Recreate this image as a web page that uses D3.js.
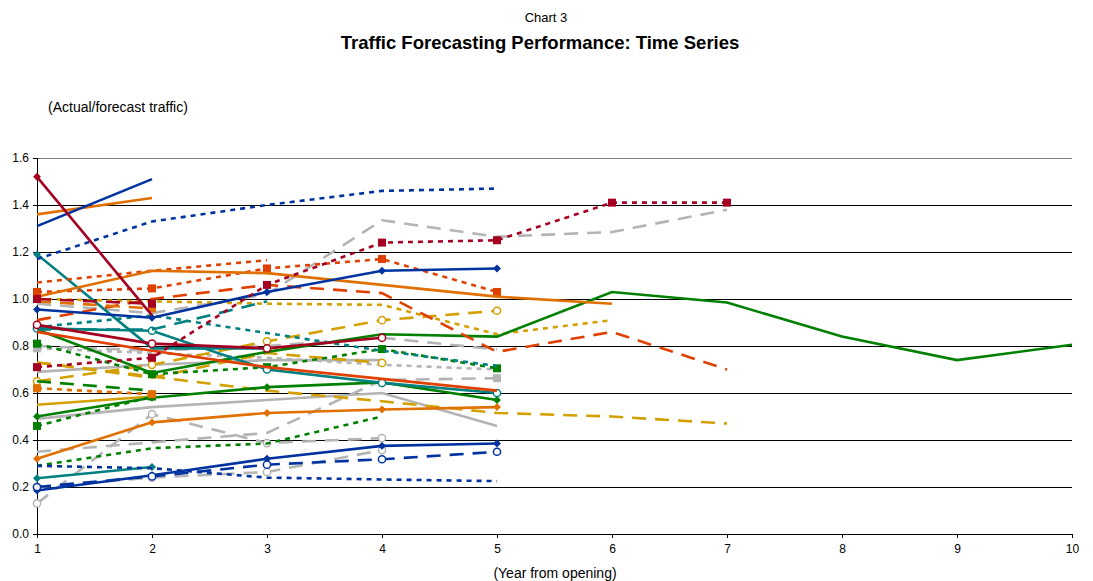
<!DOCTYPE html>
<html><head><meta charset="utf-8">
<script src="https://cdn.jsdelivr.net/npm/d3@7"></script>
<style>body{margin:0;background:#fff;font-family:"Liberation Sans",Arial,sans-serif}</style>
</head><body><svg id="c" width="1093" height="581"></svg>
<script>
// ---- data (actual/forecast traffic ratio by year from opening; index 0 = year 1) ----
const yearTicks = [1,2,3,4,5,6,7,8,9,10];
const valueTicks = [0,0.2,0.4,0.6,0.8,1.0,1.2,1.4,1.6];

const crimsonA = [1.52, 0.93];
const crimsonB = [0.71, 0.75, 1.06, 1.24, 1.25, 1.41, 1.41];
const crimsonC = [0.89, 0.81, 0.79, 0.835];
const crimsonD = [1.00, 0.98];

const blueA = [1.31, 1.51];
const blueB = [1.17, 1.33, 1.40, 1.46, 1.47];
const blueC = [0.955, 0.92, 1.03, 1.12, 1.13];
const blueD = [0.185, 0.25, 0.32, 0.375, 0.385];
const blueE = [0.20, 0.245, 0.295, 0.318, 0.35];
const blueF = [0.29, 0.28, 0.24, 0.232, 0.225];

const orangeA = [1.36, 1.43];
const orangeB = [1.01, 1.12, 1.11, 1.06, 1.01, 0.98];
const orangeC = [0.32, 0.475, 0.515, 0.53, 0.54];
const orangeD = [0.62, 0.595];
const orangeE = [0.99, 0.96];

const redA = [1.03, 1.045, 1.13, 1.17, 1.03];
const redB = [0.91, 1.00, 1.06, 1.025, 0.775, 0.86, 0.70];
const redC = [0.86, 0.78, 0.71, 0.66, 0.61];
const redD = [1.07, 1.12, 1.165];

const tealA = [1.19, 0.79, 0.79];
const tealB = [0.875, 0.865, 0.70, 0.643, 0.60];
const tealC = [0.88, 0.93, 0.855, 0.78, 0.715];
const tealD = [0.87, 0.87, 0.99];
const tealE = [0.237, 0.285];

const greenA = [0.87, 0.685, 0.775, 0.85, 0.84, 1.03, 0.985, 0.84, 0.74, 0.805];
const greenB = [0.50, 0.58, 0.625, 0.645, 0.57];
const greenC = [0.81, 0.68, 0.71, 0.787, 0.705];
const greenD = [0.65, 0.61];
const greenE = [0.46, 0.585];
const greenF = [0.29, 0.365, 0.385, 0.50];

const goldA = [0.55, 0.585];
const goldB = [0.65, 0.72, 0.82, 0.91, 0.95];
const goldC = [1.00, 0.99, 0.98, 0.975, 0.85, 0.91];
const goldD = [0.73, 0.665, 0.77, 0.728];
const goldE = [0.73, 0.67, 0.61, 0.565, 0.515, 0.50, 0.47];

const grayA = [0.98, 0.94, 1.02, 1.335, 1.265, 1.285, 1.38];
const grayB = [0.80, 0.78, 0.80, 0.835, 0.785];
const grayC = [0.79, 0.77, 0.75, 0.72, 0.70];
const grayD = [0.49, 0.54, 0.57, 0.60, 0.46];
const grayE = [0.69, 0.72, 0.74, 0.74];
const grayF = [0.13, 0.51, 0.387, 0.408];
const grayG = [0.35, 0.39, 0.43, 0.655, 0.663];
const grayH = [0.20, 0.24, 0.264, 0.357];

// ---- styles ----
const C = {crimson:"#a50021", blue:"#0033a0", orange:"#e07000", red:"#e04000",
           teal:"#008080", green:"#008000", gold:"#d4a000", gray:"#b4b4b4"};
const series = [
  {v:grayA, c:C.gray, d:"long"}, {v:grayB, c:C.gray, d:"long"},
  {v:grayC, c:C.gray, d:"dot", m:"square", mi:[0]}, {v:grayD, c:C.gray, d:"solid"},
  {v:grayE, c:C.gray, d:"solid"}, {v:grayF, c:C.gray, d:"long", m:"circle"},
  {v:grayG, c:C.gray, d:"long", m:"square", mi:[4]}, {v:grayH, c:C.gray, d:"long", m:"circle"},
  {v:goldA, c:C.gold, d:"solid"}, {v:goldB, c:C.gold, d:"long", m:"circle"},
  {v:goldC, c:C.gold, d:"dot"}, {v:goldD, c:C.gold, d:"long", m:"circle", mi:[3]},
  {v:goldE, c:C.gold, d:"long"},
  {v:greenA, c:C.green, d:"solid"}, {v:greenB, c:C.green, d:"solid", m:"diamond"},
  {v:greenC, c:C.green, d:"dot", m:"square"}, {v:greenD, c:C.green, d:"long"},
  {v:greenE, c:C.green, d:"dot", m:"square"}, {v:greenF, c:C.green, d:"dot"},
  {v:tealA, c:C.teal, d:"solid", m:"diamond", mi:[0]}, {v:tealB, c:C.teal, d:"solid", m:"circle"},
  {v:tealC, c:C.teal, d:"dot"}, {v:tealD, c:C.teal, d:"long"},
  {v:tealE, c:C.teal, d:"solid", m:"diamond"},
  {v:redA, c:C.red, d:"dot", m:"square"}, {v:redB, c:C.red, d:"long"},
  {v:redC, c:C.red, d:"solid"}, {v:redD, c:C.red, d:"dot"},
  {v:orangeA, c:C.orange, d:"solid"}, {v:orangeB, c:C.orange, d:"solid"},
  {v:orangeC, c:C.orange, d:"solid", m:"diamond"}, {v:orangeD, c:C.orange, d:"dot", m:"square"},
  {v:orangeE, c:C.orange, d:"long", m:"square", mi:[1]},
  {v:blueA, c:C.blue, d:"solid"}, {v:blueB, c:C.blue, d:"dot"},
  {v:blueC, c:C.blue, d:"solid", m:"diamond"}, {v:blueD, c:C.blue, d:"solid", m:"diamond"},
  {v:blueE, c:C.blue, d:"long", m:"circle"}, {v:blueF, c:C.blue, d:"dot"},
  {v:crimsonA, c:C.crimson, d:"solid", m:"diamond", mi:[0]}, {v:crimsonB, c:C.crimson, d:"dot", m:"square"},
  {v:crimsonC, c:C.crimson, d:"solid", m:"circle"}, {v:crimsonD, c:C.crimson, d:"long", m:"square"}
];
const dashes = {solid:null, dot:"5,5", long:"14,9"};

const svg = d3.select("#c");
const x = d3.scaleLinear().domain([1,10]).range([37,1072]);
const y = d3.scaleLinear().domain([0,1.6]).range([534,158]);

svg.append("text").attr("x",546).attr("y",22).attr("text-anchor","middle")
  .attr("font-size",13).text("Chart 3");
svg.append("text").attr("x",540).attr("y",49).attr("text-anchor","middle")
  .attr("font-size",18.5).attr("font-weight","bold")
  .text("Traffic Forecasting Performance: Time Series");
svg.append("text").attr("x",48).attr("y",112).attr("font-size",14)
  .text("(Actual/forecast traffic)");
svg.append("text").attr("x",555).attr("y",578).attr("text-anchor","middle")
  .attr("font-size",14).text("(Year from opening)");

// gridlines
svg.append("g").selectAll("line").data(valueTicks.filter(t=>t>0)).join("line")
  .attr("x1",x(1)).attr("x2",x(10)).attr("y1",d=>y(d)).attr("y2",d=>y(d))
  .attr("stroke",(d)=>d===1.6?"#808080":"#000").attr("stroke-width",1)
  .attr("shape-rendering","crispEdges");

// y axis
const ya = svg.append("g").attr("transform",`translate(${x(1)},0)`)
  .call(d3.axisLeft(y).tickValues(valueTicks).tickFormat(d3.format(".1f")).tickSize(4).tickPadding(4));
ya.select(".domain").attr("stroke","#000");
ya.selectAll("text").attr("font-size",12).attr("font-family","Liberation Sans, Arial, sans-serif");

// x axis
const xa = svg.append("g").attr("transform",`translate(0,${y(0)})`)
  .call(d3.axisBottom(x).tickValues(yearTicks).tickFormat(d3.format("d")).tickSize(4).tickPadding(6));
xa.select(".domain").attr("stroke","#000");
xa.selectAll("text").attr("font-size",12).attr("font-family","Liberation Sans, Arial, sans-serif");

const line = d3.line().x((d,i)=>x(i+1)).y(d=>y(d));
const g = svg.append("g");
series.forEach(s=>{
  g.append("path").datum(s.v).attr("d",line).attr("fill","none")
    .attr("stroke",s.c).attr("stroke-width",2.6)
    .attr("stroke-dasharray",dashes[s.d]);
  if(s.m){
    let pts = s.v.map((v,i)=>[x(i+1),y(v),i]);
    if(s.mi) pts = pts.filter(p=>s.mi.includes(p[2]));
    if(s.m==="diamond"){
      g.selectAll(null).data(pts).join("path")
        .attr("d",d3.symbol(d3.symbolDiamond2,40)())
        .attr("transform",d=>`translate(${d[0]},${d[1]})`)
        .attr("fill",s.c);
    } else if(s.m==="square"){
      g.selectAll(null).data(pts).join("rect")
        .attr("x",d=>d[0]-4).attr("y",d=>d[1]-4).attr("width",8).attr("height",8)
        .attr("fill",s.c);
    } else {
      g.selectAll(null).data(pts).join("circle")
        .attr("cx",d=>d[0]).attr("cy",d=>d[1]).attr("r",3.6)
        .attr("fill","#fff").attr("stroke",s.c).attr("stroke-width",1.5);
    }
  }
});
</script></body></html>
